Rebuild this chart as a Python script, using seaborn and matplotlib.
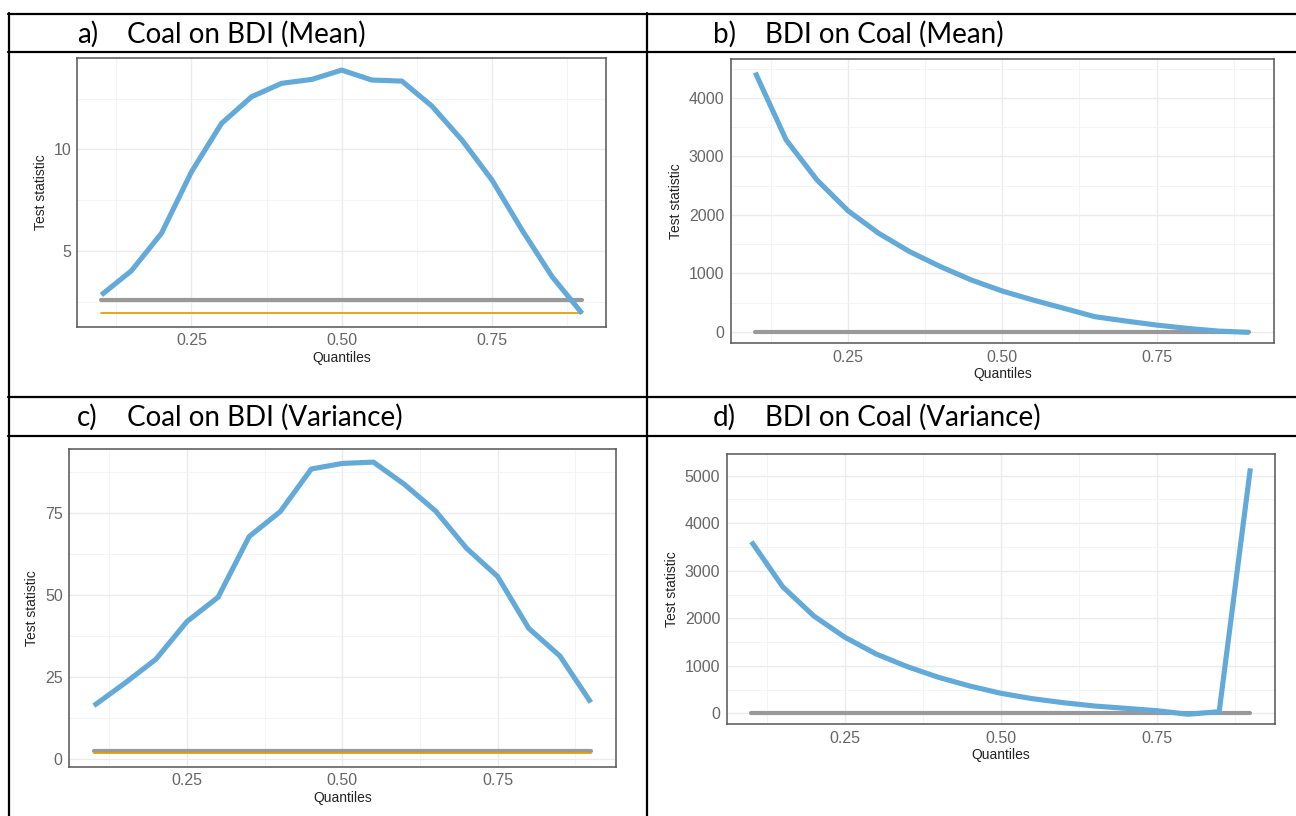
import numpy as np
import pandas as pd
import matplotlib
matplotlib.use("Agg")
import matplotlib.pyplot as plt
from matplotlib.lines import Line2D
from matplotlib.ticker import FixedLocator
import seaborn as sns

# ---------------- data ----------------
quantiles = [0.10, 0.15, 0.20, 0.25, 0.30, 0.35, 0.40, 0.45, 0.50,
             0.55, 0.60, 0.65, 0.70, 0.75, 0.80, 0.85, 0.90]

coal_on_bdi_mean = [2.84, 4.03, 5.87, 8.9, 11.28, 12.59, 13.25, 13.44, 13.9,
                    13.41, 13.36, 12.13, 10.46, 8.49, 6.03, 3.74, 1.93]
bdi_on_coal_mean = [4434, 3281, 2596, 2071, 1683, 1370, 1113, 885, 696,
                    542, 400, 257, 183, 114, 57, 11, -11]
coal_on_bdi_var = [16.3, 23.2, 30.5, 42.0, 49.4, 67.9, 75.5, 88.5, 90.2,
                   90.6, 83.8, 75.7, 64.3, 55.7, 39.9, 31.5, 17.3]
bdi_on_coal_var = [3611, 2665, 2048, 1599, 1248, 982, 757, 575, 421,
                   309, 224, 154, 105, 56, -20, 35, 5154]

crit_1pct = 2.58
crit_5pct = 1.96

titles_label = ["a)", "b)", "c)", "d)"]
titles_text = ["Coal on BDI (Mean)", "BDI on Coal (Mean)",
               "Coal on BDI (Variance)", "BDI on Coal (Variance)"]
x_ticks = [0.25, 0.50, 0.75]
x_tick_labels = ["0.25", "0.50", "0.75"]

# ---------------- style ----------------
sns.set_style("white")
plt.rcParams["font.family"] = ["Liberation Sans", "DejaVu Sans"]

W, H = 1296, 816
fig = plt.figure(figsize=(W / 100, H / 100), dpi=100)
fig.patch.set_facecolor("white")

BLUE = "#63aad8"
GRAY = "#999999"
ORANGE = "#E69F00"


def px_axes(x0, x1, y0, y1):
    return fig.add_axes([x0 / W, 1 - y1 / H, (x1 - x0) / W, (y1 - y0) / H])


panels = [
    dict(box=(77.3, 606.2, 58.3, 326.7), y=coal_on_bdi_mean, ylim=(1.28, 14.48),
         major=[5, 10], minor=[2.5, 7.5, 12.5], orange=True),
    dict(box=(730.6, 1274, 59, 343.3), y=bdi_on_coal_mean, ylim=(-198, 4667),
         major=[0, 1000, 2000, 3000, 4000], minor=[500, 1500, 2500, 3500, 4500], orange=False),
    dict(box=(69, 615.7, 449, 766.7), y=coal_on_bdi_var, ylim=(-2.3, 94.6),
         major=[0, 25, 50, 75], minor=[12.5, 37.5, 62.5, 87.5], orange=True),
    dict(box=(726.5, 1275.3, 454.3, 724.3), y=bdi_on_coal_var, ylim=(-231, 5450),
         major=[0, 1000, 2000, 3000, 4000, 5000], minor=[500, 1500, 2500, 3500, 4500], orange=False),
]

for p in panels:
    ax = px_axes(*p["box"])
    df = pd.DataFrame({"q": quantiles, "stat": p["y"],
                       "c1": [crit_1pct] * len(quantiles),
                       "c5": [crit_5pct] * len(quantiles)})
    sns.lineplot(data=df, x="q", y="c1", ax=ax, color=GRAY, linewidth=3.0, zorder=3)
    if p["orange"]:
        sns.lineplot(data=df, x="q", y="c5", ax=ax, color=ORANGE, linewidth=1.3,
                     zorder=3.5)
    sns.lineplot(data=df, x="q", y="stat", ax=ax, color=BLUE, linewidth=3.7,
                 zorder=4, solid_capstyle="butt", solid_joinstyle="round")
    ax.set_xlim(0.06, 0.94)
    ax.set_ylim(*p["ylim"])
    ax.xaxis.set_major_locator(FixedLocator(x_ticks))
    ax.set_xticklabels(x_tick_labels)
    ax.xaxis.set_minor_locator(FixedLocator([0.125, 0.375, 0.625, 0.875]))
    ax.yaxis.set_major_locator(FixedLocator(p["major"]))
    ax.set_yticklabels([str(v) for v in p["major"]])
    ax.yaxis.set_minor_locator(FixedLocator(p["minor"]))
    ax.grid(which="major", color="#EBEBEB", linewidth=1.0)
    ax.grid(which="minor", color="#F2F2F2", linewidth=0.6)
    ax.set_axisbelow(True)
    for s in ax.spines.values():
        s.set_color("#555555")
        s.set_linewidth(1.1)
    ax.tick_params(which="major", length=2.5, width=0.8, color="#555555",
                   labelsize=11.5, labelcolor="#666666", pad=2)
    ax.tick_params(which="minor", length=0)
    ax.set_xlabel("Quantiles", fontsize=10, color="#222222", labelpad=2)
    ax.set_ylabel("Test statistic", fontsize=10, color="#222222", labelpad=4)

# ---------------- table frame ----------------
def hline(y, x0=8, x1=W):
    fig.add_artist(Line2D([x0 / W, x1 / W], [1 - y / H, 1 - y / H],
                          color="black", linewidth=1.6))


def vline(x, y0, y1):
    fig.add_artist(Line2D([x / W, x / W], [1 - y0 / H, 1 - y1 / H],
                          color="black", linewidth=1.6))


for y in [13.5, 52, 397, 435.5]:
    hline(y)
vline(8.5, 13, H)
vline(647, 13, H)

# ---------------- titles ----------------
title_pos = [(77, 127, 34), (713, 765, 34), (77, 127, 417), (713, 765, 417)]
for (xl, xt, yc), lab, txt in zip(title_pos, titles_label, titles_text):
    fig.text(xl / W, 1 - yc / H, lab, fontsize=20, family=["Lato", "DejaVu Sans"],
             va="center", ha="left", color="black")
    fig.text(xt / W, 1 - yc / H, txt, fontsize=20, family=["Lato", "DejaVu Sans"],
             va="center", ha="left", color="black")

fig.savefig("out.png", dpi=100, facecolor="white")
